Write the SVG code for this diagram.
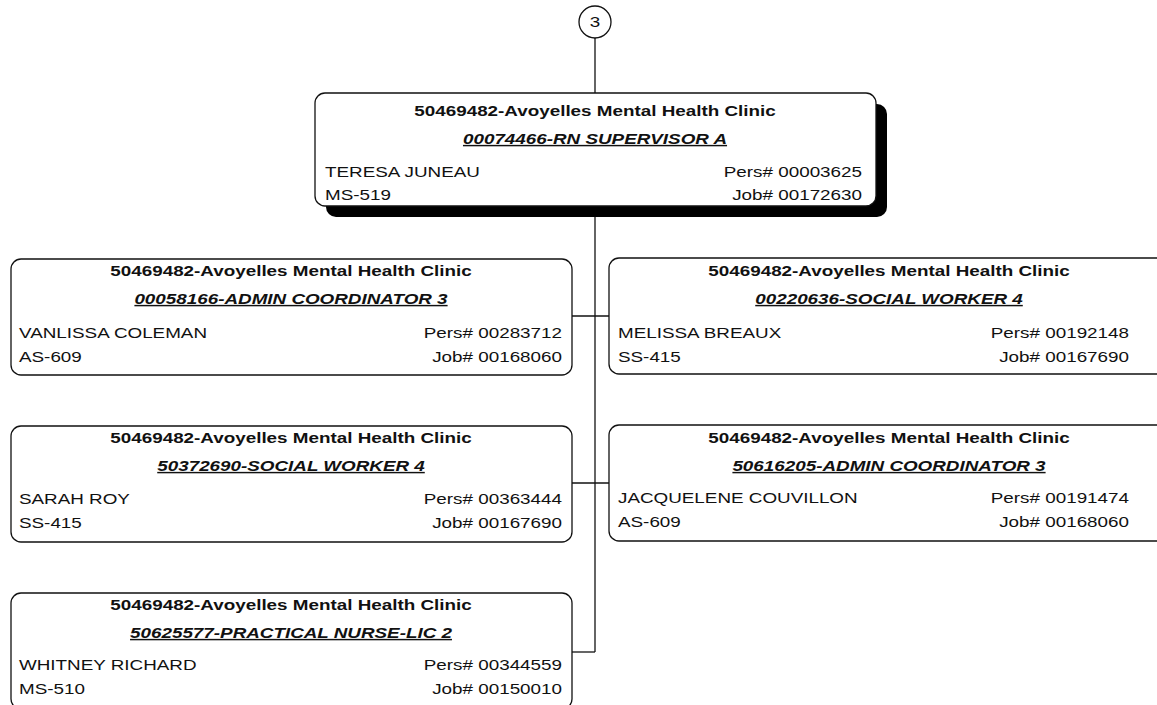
<svg xmlns="http://www.w3.org/2000/svg" width="1157" height="705" viewBox="0 0 1157 705">
<style>
.box{fill:#fff;stroke:#111;stroke-width:1.3}
.shadow{fill:#000}
.ln{stroke:#111;stroke-width:1.3;fill:none}
text{font-family:"Liberation Sans",Arial,sans-serif;font-size:14.5px;fill:#111}
.t{font-weight:bold;text-anchor:middle}
.r{font-weight:bold;font-style:italic;text-anchor:middle;text-decoration:underline}
.e{text-anchor:end}
</style>
<rect width="1157" height="705" fill="#fff"/>
<g id="connectors">
<line class="ln" x1="595" y1="38" x2="595" y2="93"/>
<line class="ln" x1="595" y1="206" x2="595" y2="652"/>
<line class="ln" x1="572" y1="316" x2="609" y2="316"/>
<line class="ln" x1="572" y1="483" x2="609" y2="483"/>
<line class="ln" x1="572" y1="652" x2="595" y2="652"/>
</g>
<g id="n-ref">
<ellipse class="box" cx="595" cy="22" rx="16" ry="16"/>
<text transform="translate(595,27) scale(1.3,1)" text-anchor="middle">3</text>
</g>
<g id="n-top">
<rect class="shadow" x="326" y="104" width="561" height="113" rx="10"/>
<rect class="box" x="315" y="93" width="561" height="113" rx="10"/>
<text class="t" transform="translate(595,116) scale(1.3,1)">50469482-Avoyelles Mental Health Clinic</text>
<text class="r" transform="translate(595,144) scale(1.3,1)">00074466-RN SUPERVISOR A</text>
<text transform="translate(325,177) scale(1.3,1)">TERESA JUNEAU</text>
<text class="e" transform="translate(862,177) scale(1.3,1)">Pers# 00003625</text>
<text transform="translate(325,200) scale(1.3,1)">MS-519</text>
<text class="e" transform="translate(862,200) scale(1.3,1)">Job# 00172630</text>
</g>
<g id="n-l1">
<rect class="box" x="11" y="259" width="561" height="116" rx="10"/>
<text class="t" transform="translate(291,276) scale(1.3,1)">50469482-Avoyelles Mental Health Clinic</text>
<text class="r" transform="translate(291,304) scale(1.3,1)">00058166-ADMIN COORDINATOR 3</text>
<text transform="translate(19,338) scale(1.3,1)">VANLISSA COLEMAN</text>
<text class="e" transform="translate(562,338) scale(1.3,1)">Pers# 00283712</text>
<text transform="translate(19,362) scale(1.3,1)">AS-609</text>
<text class="e" transform="translate(562,362) scale(1.3,1)">Job# 00168060</text>
</g>
<g id="n-r1">
<rect class="box" x="609" y="258" width="561" height="116" rx="10"/>
<text class="t" transform="translate(889,276) scale(1.3,1)">50469482-Avoyelles Mental Health Clinic</text>
<text class="r" transform="translate(889,304) scale(1.3,1)">00220636-SOCIAL WORKER 4</text>
<text transform="translate(618,338) scale(1.3,1)">MELISSA BREAUX</text>
<text class="e" transform="translate(1129,338) scale(1.3,1)">Pers# 00192148</text>
<text transform="translate(618,362) scale(1.3,1)">SS-415</text>
<text class="e" transform="translate(1129,362) scale(1.3,1)">Job# 00167690</text>
</g>
<g id="n-l2">
<rect class="box" x="11" y="426" width="561" height="116" rx="10"/>
<text class="t" transform="translate(291,443) scale(1.3,1)">50469482-Avoyelles Mental Health Clinic</text>
<text class="r" transform="translate(291,471) scale(1.3,1)">50372690-SOCIAL WORKER 4</text>
<text transform="translate(19,504) scale(1.3,1)">SARAH ROY</text>
<text class="e" transform="translate(562,504) scale(1.3,1)">Pers# 00363444</text>
<text transform="translate(19,528) scale(1.3,1)">SS-415</text>
<text class="e" transform="translate(562,528) scale(1.3,1)">Job# 00167690</text>
</g>
<g id="n-r2">
<rect class="box" x="609" y="425" width="561" height="116" rx="10"/>
<text class="t" transform="translate(889,443) scale(1.3,1)">50469482-Avoyelles Mental Health Clinic</text>
<text class="r" transform="translate(889,471) scale(1.3,1)">50616205-ADMIN COORDINATOR 3</text>
<text transform="translate(618,503) scale(1.3,1)">JACQUELENE COUVILLON</text>
<text class="e" transform="translate(1129,503) scale(1.3,1)">Pers# 00191474</text>
<text transform="translate(618,527) scale(1.3,1)">AS-609</text>
<text class="e" transform="translate(1129,527) scale(1.3,1)">Job# 00168060</text>
</g>
<g id="n-l3">
<rect class="box" x="11" y="593" width="561" height="116" rx="10"/>
<text class="t" transform="translate(291,610) scale(1.3,1)">50469482-Avoyelles Mental Health Clinic</text>
<text class="r" transform="translate(291,638) scale(1.3,1)">50625577-PRACTICAL NURSE-LIC 2</text>
<text transform="translate(19,670) scale(1.3,1)">WHITNEY RICHARD</text>
<text class="e" transform="translate(562,670) scale(1.3,1)">Pers# 00344559</text>
<text transform="translate(19,694) scale(1.3,1)">MS-510</text>
<text class="e" transform="translate(562,694) scale(1.3,1)">Job# 00150010</text>
</g>
</svg>
